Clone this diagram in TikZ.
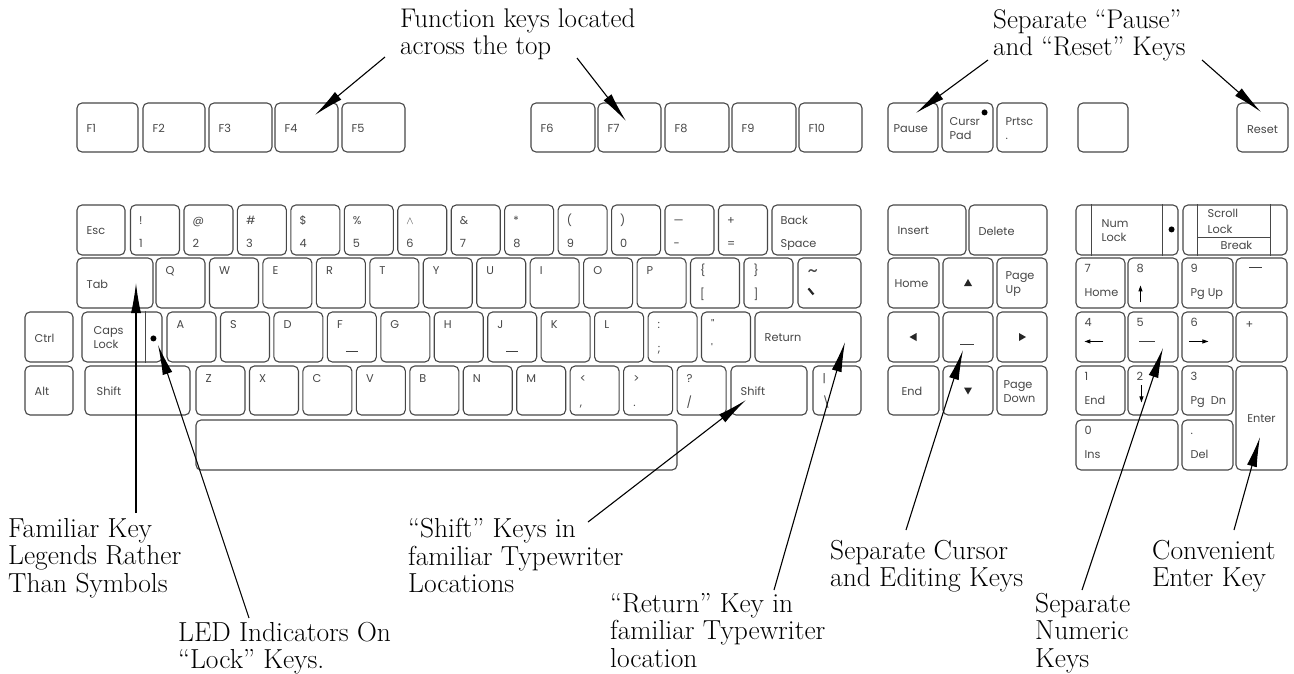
\documentclass[tikz,border=0pt]{standalone}
\usepackage{fontspec}
\usetikzlibrary{calc,arrows.meta}
\newfontfamily\keyfont{Poppins}
\newcommand\kf{\keyfont\fontsize{11.3}{14}\selectfont}
\newcommand\annf{\fontsize{27.5}{27.5}\selectfont}
\newcommand\topf{\fontsize{27}{27}\selectfont}
% key box: name, x1, y1, x2, y2 (y downwards)
\newcommand\K[5]{\node[keyb, minimum width={(#4)-(#2)}, minimum height={(#5)-(#3)}] (#1) at ({((#2)+(#4))/2},{((#3)+(#5))/2}) {};}
\newcommand\TB[3]{\node[kl,anchor=base west] (#1t) at ($(#1.north west)+(9,20)$) {#2};\node[kl,anchor=base west] (#1b) at ($(#1.north west)+(9,43)$) {#3};}
\newcommand\NPL[3]{\node[kl,anchor=base west] (#1t) at ($(#1.north west)+(9,15)$) {#2};\node[kl,anchor=base west] (#1b) at ($(#1.north west)+(9,39)$) {#3};}
\newcommand\TO[2]{\node[kl,anchor=base west] (#1t) at ($(#1.north west)+(10,17)$) {#2};}
\newcommand\BO[2]{\node[kl,anchor=base west] (#1b) at ($(#1.north west)+(10,41)$) {#2};}
\newcommand\MI[3][10]{\node[kl,anchor=west,align=left] (#2t) at ($(#2.west)+(#1,1)$) {#3};}
\newcommand\NK[4]{\K{#1}{130.5+53.45*#2}{205}{179.5+53.45*#2}{255}\TB{#1}{#3}{#4}}
\newcommand\QK[3]{\K{#1}{156+53.45*#2}{258}{205+53.45*#2}{308}\TO{#1}{#3}}
\newcommand\AK[3]{\K{#1}{167+53.45*#2}{312}{216+53.45*#2}{362}\TO{#1}{#3}}
\newcommand\ZK[3]{\K{#1}{196+53.45*#2}{366}{245+53.45*#2}{415}\TO{#1}{#3}}
\begin{document}
\begin{tikzpicture}[x=1pt,y=-1pt,
  keyb/.style={draw=black!72, line width=1.1pt, rounded corners=5pt, inner sep=0pt, fill=white},
  kl/.style={font=\kf, text=black!72, inner sep=0pt},
  keyline/.style={draw=black!72, line width=1pt},
  ann/.style={font=\annf, align=left, inner sep=0pt, anchor=north west},
  callout/.style={line width=1.1pt, -{Latex[length=30pt,width=10pt]}},
  marker/.style={line width=0.9pt, black!75},
  tri/.style={fill=black!85}]
\fill[white] (0,0) rectangle (1294,673);
\useasboundingbox (0,0) rectangle (1294,673);

% ---------- function row ----------
\K{f1}{77}{103}{138}{152}\MI{f1}{F1}
\K{f2}{143}{103}{205}{152}\MI{f2}{F2}
\K{f3}{209}{103}{272}{152}\MI{f3}{F3}
\K{f4}{275}{103}{338}{152}\MI{f4}{F4}
\K{f5}{342}{103}{405}{152}\MI{f5}{F5}
\K{f6}{531}{103}{595}{152}\MI{f6}{F6}
\K{f7}{598}{103}{661}{152}\MI{f7}{F7}
\K{f8}{665}{103}{729}{152}\MI{f8}{F8}
\K{f9}{732}{103}{796}{152}\MI{f9}{F9}
\K{f10}{799}{103}{862}{152}\MI{f10}{F10}
\K{pause}{888}{103}{938}{152}\MI[6]{pause}{Pause}
\K{cursr}{942}{103}{993}{152}\MI[8]{cursr}{Cursr\\Pad}
\fill[black] ($(cursr.north east)+(-9,10)$) circle (3);
\K{prtsc}{997}{103}{1047}{152}\MI[9]{prtsc}{Prtsc\\.}
\K{blank}{1078}{103}{1128}{152}
\K{reset}{1237}{103}{1288}{152}\node[kl] (resett) at ($(reset.center)+(0,2)$) {Reset};

% ---------- number row ----------
\K{esc}{77}{205}{125}{255}\MI{esc}{Esc}
\NK{n1}{0}{!}{1}
\NK{n2}{1}{@}{2}
\NK{n3}{2}{\#}{3}
\NK{n4}{3}{\$}{4}
\NK{n5}{4}{\%}{5}
\NK{n6}{5}{$\wedge$}{6}
\NK{n7}{6}{\&}{7}
\NK{n8}{7}{*}{8}
\NK{n9}{8}{(}{9}
\NK{n0}{9}{)}{0}
\NK{nmin}{10}{—}{-}
\NK{nplus}{11}{+}{=}
\K{bksp}{772}{205}{861}{255}\TB{bksp}{Back}{Space}

% ---------- Q row ----------
\K{tab}{77}{258}{153}{308}\MI{tab}{Tab}
\QK{qQ}{0}{Q}\QK{qW}{1}{W}\QK{qE}{2}{E}\QK{qR}{3}{R}\QK{qT}{4}{T}\QK{qY}{5}{Y}
\QK{qU}{6}{U}\QK{qI}{7}{I}\QK{qO}{8}{O}\QK{qP}{9}{P}
\QK{qlb}{10}{\{}\BO{qlb}{[}
\QK{qrb}{11}{\}}\BO{qrb}{]}
\K{tilde}{798}{258}{861}{308}
\node[kl,anchor=base west] (tildet) at ($(tilde.north west)+(10,20)$) {\fontsize{20}{20}\selectfont\textasciitilde};
\draw[line width=2.2pt, black!85] ($(tilde.north west)+(11,31)$) -- ++(5,6);

% ---------- A row ----------
\K{ctrl}{25}{312}{73}{362}\MI{ctrl}{Ctrl}
\K{caps}{82}{312}{162}{362}\MI[12]{caps}{Caps\\Lock}
\draw[keyline] ($(caps.north west)+(64,0)$) -- ($(caps.south west)+(64,0)$);
\fill[black] ($(caps.north west)+(72,27)$) circle (3);
\AK{aA}{0}{A}\AK{aS}{1}{S}\AK{aD}{2}{D}\AK{aF}{3}{F}\AK{aG}{4}{G}\AK{aH}{5}{H}
\AK{aJ}{6}{J}\AK{aK}{7}{K}\AK{aL}{8}{L}
\AK{asc}{9}{:}\BO{asc}{;}
\AK{aqu}{10}{"}\BO{aqu}{'}
\draw[marker] ($(aF.north west)+(19,40)$) -- ++(12,0);
\draw[marker] ($(aJ.north west)+(19,40)$) -- ++(12,0);
\K{ret}{755}{312}{861}{362}\MI{ret}{Return}

% ---------- Z row ----------
\K{alt}{25}{366}{73}{415}\MI{alt}{Alt}
\K{lshift}{85}{366}{190}{415}\MI[12]{lshift}{Shift}
\ZK{zZ}{0}{Z}\ZK{zX}{1}{X}\ZK{zC}{2}{C}\ZK{zV}{3}{V}\ZK{zB}{4}{B}\ZK{zN}{5}{N}\ZK{zM}{6}{M}
\ZK{zlt}{7}{<}\BO{zlt}{,}
\ZK{zgt}{8}{>}\BO{zgt}{.}
\ZK{zsl}{9}{?}\BO{zsl}{/}
\K{rshift}{731}{366}{807}{415}\MI{rshift}{Shift}
\K{bsl}{813}{366}{861}{415}\TO{bsl}{|}\BO{bsl}{\textbackslash}

% ---------- space bar ----------
\K{space}{196}{420}{677}{470}

% ---------- cursor / editing cluster ----------
\K{ins}{888}{205}{966}{255}\MI{ins}{Insert}
\K{del}{969}{205}{1047}{255}\MI{del}{Delete}
\K{home}{888}{258}{939}{308}\MI[7]{home}{Home}
\K{up}{943}{258}{993}{308}
\fill[tri] ($(up.center)+(-4,3)$) -- ($(up.center)+(4,3)$) -- ($(up.center)+(0,-4)$) -- cycle;
\K{pgup}{997}{258}{1047}{308}\MI[9]{pgup}{Page\\Up}
\K{left}{888}{312}{939}{362}
\fill[tri] ($(left.center)+(3,-4)$) -- ($(left.center)+(3,4)$) -- ($(left.center)+(-4,0)$) -- cycle;
\K{mid}{943}{312}{993}{362}
\draw[marker] ($(mid.north west)+(18,33)$) -- ++(14,0);
\K{right}{997}{312}{1047}{362}
\fill[tri] ($(right.center)+(-3,-4)$) -- ($(right.center)+(-3,4)$) -- ($(right.center)+(4,0)$) -- cycle;
\K{end}{888}{366}{939}{415}\MI[14]{end}{End}
\K{down}{943}{366}{993}{415}
\fill[tri] ($(down.center)+(-4,-3)$) -- ($(down.center)+(4,-3)$) -- ($(down.center)+(0,4)$) -- cycle;
\K{pgdn}{997}{366}{1047}{415}\MI[7]{pgdn}{Page\\Down}

% ---------- numeric pad ----------
\K{numl}{1076}{205}{1178}{255}
\draw[keyline] ($(numl.north west)+(16,0)$) -- ($(numl.south west)+(16,0)$);
\draw[keyline] ($(numl.north west)+(87,0)$) -- ($(numl.south west)+(87,0)$);
\node[kl,anchor=west,align=left] (numlt) at ($(numl.west)+(26,1)$) {Num\\Lock};
\fill[black] ($(numl.north east)+(-7,25)$) circle (3);
\K{scrl}{1183}{205}{1287}{255}
\draw[keyline] ($(scrl.north west)+(15,0)$) -- ($(scrl.south west)+(15,0)$);
\draw[keyline] ($(scrl.north west)+(88,0)$) -- ($(scrl.south west)+(88,0)$);
\draw[keyline] ($(scrl.north west)+(15,33)$) -- ($(scrl.north west)+(88,33)$);
\node[kl,anchor=base west] (scrlt) at ($(scrl.north west)+(25,13)$) {Scroll};
\node[kl,anchor=base west] (scrlm) at ($(scrl.north west)+(25,29)$) {Lock};
\node[kl,anchor=base west] (scrlb) at ($(scrl.north west)+(38,45)$) {Break};

\K{p7}{1076}{258}{1125}{308}\NPL{p7}{7}{Home}
\K{p8}{1128}{258}{1178}{308}\NPL{p8}{8}{}
\draw[line width=1pt,-{Triangle[length=6pt,width=4pt]}] ($(p8.north west)+(13,45)$) -- ++(0,-17);
\K{p9}{1182}{258}{1233}{308}\NPL{p9}{9}{Pg Up}
\K{pmin}{1236}{258}{1287}{308}
\draw[marker] ($(pmin.north west)+(14,10)$) -- ++(13,0);
\K{p4}{1076}{312}{1125}{362}\NPL{p4}{4}{}
\draw[line width=1pt,-{Triangle[length=6pt,width=4pt]}] ($(p4.north west)+(28,30)$) -- ++(-19,0);
\K{p5}{1128}{312}{1178}{362}\NPL{p5}{5}{}
\draw[marker] ($(p5.north west)+(12,30)$) -- ++(16,0);
\K{p6}{1182}{312}{1233}{362}\NPL{p6}{6}{}
\draw[line width=1pt,-{Triangle[length=6pt,width=4pt]}] ($(p6.north west)+(8,30)$) -- ++(19,0);
\K{pplus}{1236}{312}{1287}{362}\TO{pplus}{+}
\K{p1}{1076}{366}{1125}{415}\NPL{p1}{1}{End}
\K{p2}{1128}{366}{1178}{415}\NPL{p2}{2}{}
\draw[line width=1pt,-{Triangle[length=6pt,width=4pt]}] ($(p2.north west)+(14,20)$) -- ++(0,17);
\K{p3}{1182}{366}{1233}{415}\NPL{p3}{3}{Pg\ \ Dn}
\K{enter}{1236}{366}{1287}{470}\node[kl] (entert) at ($(enter.center)+(0,1)$) {Enter};
\K{p0}{1076}{420}{1178}{470}\NPL{p0}{0}{Ins}
\K{pdot}{1182}{420}{1233}{470}\NPL{pdot}{.}{Del}

% ---------- annotations ----------
\node[ann,font=\topf] (tfunc) at (400,9) {Function keys located\\across the top};
\node[ann,font=\topf] (tpause) at (993,9) {Separate “Pause”\\and “Reset” Keys};
\node[ann] (tfam) at (8,518) {Familiar Key\\Legends Rather\\Than Symbols};
\node[ann] (tled) at (178,622) {LED Indicators On\\“Lock” Keys.};
\node[ann] (tshift) at (408,518) {“Shift” Keys in\\familiar Typewriter\\Locations};
\node[ann] (tret) at (610,593) {“Return” Key in\\familiar Typewriter\\location};
\node[ann] (tcur) at (830,540) {Separate Cursor\\and Editing Keys};
\node[ann] (tnum) at (1035,593) {Separate\\Numeric\\Keys};
\node[ann] (tent) at (1152,540) {Convenient\\Enter Key};

\coordinate (sF4) at (385,57);   \coordinate (eF4) at (315,115);
\coordinate (sF7) at (577,58);   \coordinate (eF7) at (626,121);
\coordinate (sPa) at (988,60);   \coordinate (ePa) at (916,113);
\coordinate (sRe) at (1202,60);  \coordinate (eRe) at (1261,112);
\coordinate (sTab) at (136,513); \coordinate (eTab) at (136,283);
\coordinate (sLed) at (249,618); \coordinate (eLed) at (158,345);
\coordinate (sSh) at (588,522);  \coordinate (eSh) at (746,400);
\coordinate (sRet) at (774,590); \coordinate (eRet) at (845,342);
\coordinate (sCur) at (906,530); \coordinate (eCur) at (963,350);
\coordinate (sNum) at (1082,590);\coordinate (eNum) at (1163,348);
\coordinate (sEnt) at (1234,530);\coordinate (eEnt) at (1260,437);
\foreach \a in {F4,F7,Pa,Re,Tab,Led,Sh,Ret,Cur,Num,Ent}
  \draw[callout] (s\a) -- (e\a);
\end{tikzpicture}
\end{document}
